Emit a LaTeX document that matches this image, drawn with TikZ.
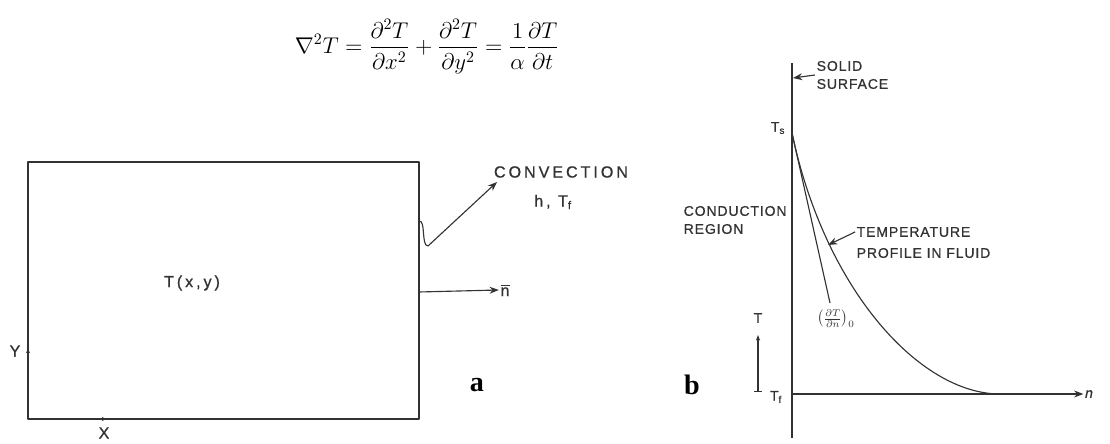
\RequirePackage{fix-cm}
\documentclass[tikz,border=0pt]{standalone}
\usepackage{amsmath}
\usepackage{fontspec}
\usetikzlibrary{arrows.meta}
\newfontfamily\lettering[LetterSpace=18,FakeBold=0.8]{Liberation Sans}
\newfontfamily\letteringsm[LetterSpace=6,FakeBold=0.8]{Liberation Sans}
\newfontfamily\panelfont{Liberation Serif}
\definecolor{ink}{RGB}{50,50,50}

\begin{document}
\begin{tikzpicture}[x=0.025cm,y=-0.025cm,>=Stealth,line join=round,
  wall/.style={draw=ink,line width=0.8pt},
  lab/.style={font=\lettering\fontsize{11.5}{13}\selectfont,text=ink,inner sep=1pt},
  labsm/.style={font=\letteringsm\fontsize{10}{12.8}\selectfont,text=ink,inner sep=1pt},
  tag/.style={font=\panelfont\bfseries\fontsize{20}{24}\selectfont,inner sep=0pt}]
  \useasboundingbox (0,0) rectangle (1110,444);
  % governing equation
  \node[font=\fontsize{16.2}{20}\selectfont] (heat) at (427,46.5)
    {$\displaystyle\nabla^2T=\frac{\partial^2T}{\partial x^2}+\frac{\partial^2T}{\partial y^2}=\frac{1}{\alpha}\frac{\partial T}{\partial t}$};
  % (a) plate
  \coordinate (SW) at (28,419);
  \coordinate (NE) at (419,162);
  \draw[wall] (SW) rectangle (NE);
  \node[lab] (Txy) at (192,283) {T(x,y)};
  \node[lab] (ylab) at (15,351) {Y};
  \node[lab] (xlab) at (104,433) {X};
  \draw[wall,-{Stealth[length=3pt,width=3pt]}] (28,356) -- (28,349);
  \draw[wall,-{Stealth[length=3pt,width=3pt]}] (99,419) -- (106,419);
  \coordinate (W0) at (419,221);
  \coordinate (W1) at (428,246);
  \coordinate (convtip) at (497,182);
  \node[lab] (conv) at (561,172) {CONVECTION};
  \node[lab] (hT) at (553,202) {h, T\textsubscript{f}};
  \draw[wall,->] (W0) .. controls (426,220) and (421,246) .. (W1) -- (convtip);
  \coordinate (nfoot) at (419,292);
  \node[lab] (nvec) at (505,290) {$\overline{\text{n}}$};
  \draw[wall,->] (nfoot) -- (nvec.west);
  \node[tag] (taga) at (477,385) {a};
  % (b) fluid near the surface
  \coordinate (surfTop) at (792,63);
  \coordinate (surfBot) at (792,438);
  \coordinate (O) at (792,394);
  \coordinate (Ts) at (792,133);
  \draw[wall] (surfTop) -- (surfBot);
  \node[labsm] (nlab) at (1089,394) {\itshape n};
  \draw[wall,->] (O) -- (nlab.west);
  \draw[wall] (Ts) .. controls (825,290) and (920,394) .. (1000,394);
  \coordinate (slopeEnd) at (830,303);
  \draw[wall] (Ts) -- (slopeEnd);
  \node[labsm] (slope) at (836,319) {$\bigl(\frac{\partial T}{\partial n}\bigr)_0$};
  \node[labsm,anchor=west,align=left] (solid) at (815,75) {SOLID\\SURFACE};
  \coordinate (surfPt) at (793,78);
  \draw[wall,->] (solid.west) -- (surfPt);
  \node[labsm] (TsLab) at (778,128) {T\textsubscript{s}};
  \node[labsm,anchor=west,align=left] (cond) at (682,220) {CONDUCTION\\REGION};
  \node[labsm,anchor=west] (temp) at (855,232) {TEMPERATURE};
  \node[labsm,anchor=west] (prof) at (855,253) {PROFILE IN FLUID};
  \coordinate (profPt) at (828,245);
  \draw[wall,->] (temp.west) -- (profPt);
  \node[labsm] (Tdir) at (758,318) {T};
  \coordinate (Tfoot) at (758,392);
  \coordinate (Ttip) at (758,335);
  \draw[wall,{Bar[width=5pt]}-{Stealth[length=4pt]}] (Tfoot) -- (Ttip);
  \node[labsm] (TfLab) at (776,397) {T\textsubscript{f}};
  \node[tag] (tagb) at (692,385) {b};
\end{tikzpicture}
\end{document}
